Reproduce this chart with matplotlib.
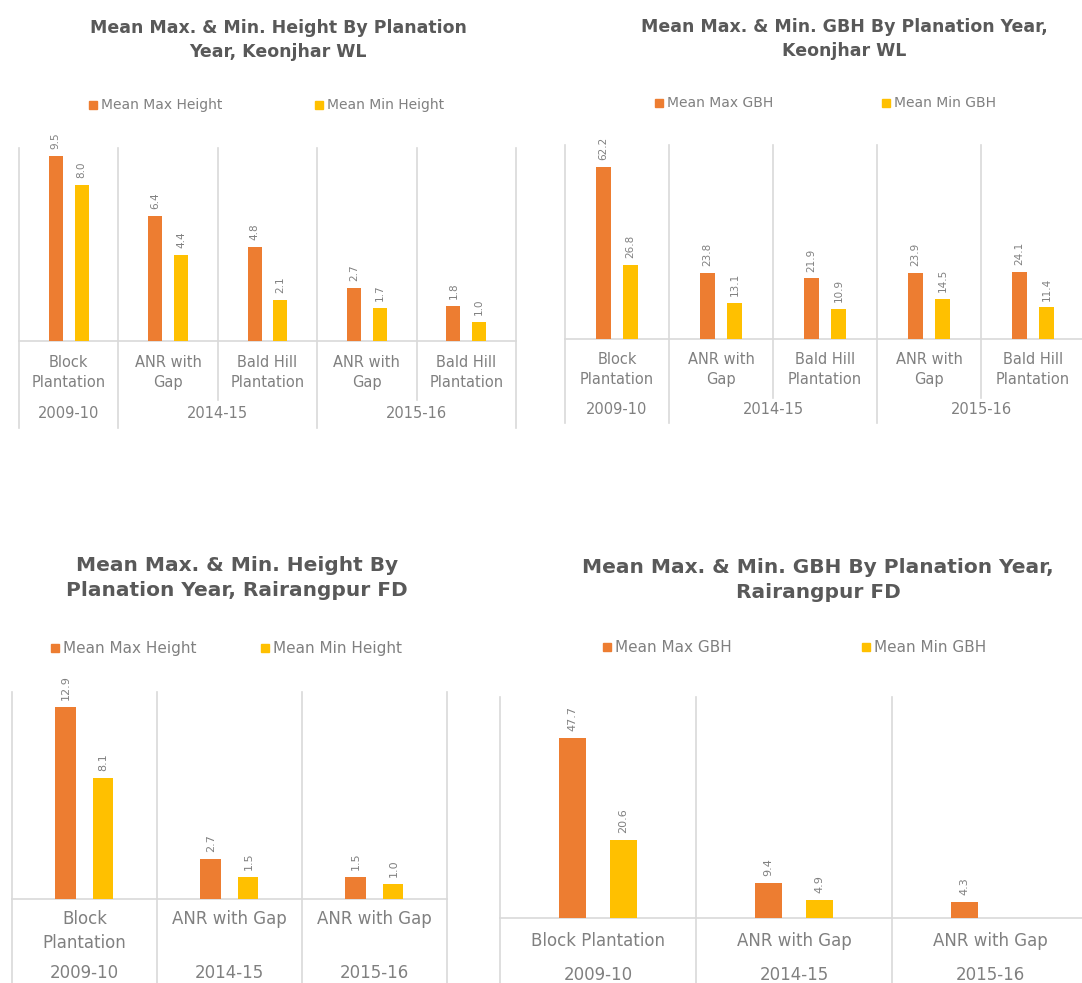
import numpy as np
import matplotlib
matplotlib.use("Agg")
import matplotlib.pyplot as plt
from matplotlib.patches import Rectangle
from matplotlib.transforms import blended_transform_factory

W, H = 1082, 983

ORANGE = "#ED7D31"
YELLOW = "#FFC000"
TITLE_C = "#595959"
TEXT_C = "#808080"
GRID_C = "#d9d9d9"

# data, Keonjhar WL
kj_cats = ["Block\nPlantation", "ANR with\nGap", "Bald Hill\nPlantation",
           "ANR with\nGap", "Bald Hill\nPlantation"]
kj_years = ["2009-10", "2014-15", "2015-16"]
kj_year_span = [1, 2, 2]
kj_max_height = [9.5, 6.4, 4.8, 2.7, 1.8]
kj_min_height = [8.0, 4.4, 2.1, 1.7, 1.0]
kj_max_gbh = [62.2, 23.8, 21.9, 23.9, 24.1]
kj_min_gbh = [26.8, 13.1, 10.9, 14.5, 11.4]

# data, Rairangpur FD
rp_cats_height = ["Block\nPlantation", "ANR with Gap", "ANR with Gap"]
rp_cats_gbh = ["Block Plantation", "ANR with Gap", "ANR with Gap"]
rp_years = ["2009-10", "2014-15", "2015-16"]
rp_year_span = [1, 1, 1]
rp_max_height = [12.9, 2.7, 1.5]
rp_min_height = [8.1, 1.5, 1.0]
rp_max_gbh = [47.7, 9.4, 4.3]
rp_min_gbh = [20.6, 4.9, None]

height_names = ["Mean Max Height", "Mean Min Height"]
gbh_names = ["Mean Max GBH", "Mean Min GBH"]

fig = plt.figure(figsize=(W / 100, H / 100), dpi=100)
fig.patch.set_facecolor("white")


def fx(x):
    return x / W


def fy(y):
    return 1 - y / H


def chart(title, tpos, cats, years, spans, vmax, vmin, names, box, ymax,
          leg, rows, bots, sizes):
    left, right, top, base = box
    ax = fig.add_axes([fx(left), fy(base), (right - left) / W, (base - top) / H])
    n = len(cats)
    x = np.arange(n)
    ax.bar(x - 0.13, vmax, 0.14, color=ORANGE, zorder=3)
    xm = [i for i in range(n) if vmin[i] is not None]
    ax.bar(x[xm] + 0.13, [vmin[i] for i in xm], 0.14, color=YELLOW, zorder=3)
    ax.set_xlim(-0.5, n - 0.5)
    ax.set_ylim(0, ymax)
    ax.axis("off")
    ax.axhline(0, color=GRID_C, lw=1.2, zorder=2, clip_on=False)

    tr = blended_transform_factory(ax.transData, fig.transFigure)
    bounds = np.cumsum([0] + spans)
    for i in range(n + 1):
        bot = bots[1] if i in bounds else bots[0]
        ax.plot([i - 0.5, i - 0.5], [fy(top), fy(bot)], transform=tr,
                color=GRID_C, lw=1.2, clip_on=False, zorder=1)

    for vals, off in ((vmax, -0.13), (vmin, 0.13)):
        for i, v in enumerate(vals):
            if v is None:
                continue
            ax.annotate(f"{v:.1f}", (i + off, v), xytext=(0, 5),
                        textcoords="offset points", rotation=90,
                        ha="center", va="bottom", fontsize=sizes[3],
                        color=TEXT_C)

    for i, c in enumerate(cats):
        ax.text(i, fy(rows[0]), c, transform=tr, ha="center", va="top",
                fontsize=sizes[1], color=TEXT_C, linespacing=1.45)
    for k, yr in enumerate(years):
        xc = bounds[k] + spans[k] / 2 - 0.5
        ax.text(xc, fy(rows[1]), yr, transform=tr, ha="center",
                va="center", fontsize=sizes[1], color=TEXT_C)

    fig.text(fx(tpos[0]), fy(tpos[1]), title, ha="center", va="center",
             fontsize=sizes[0], fontweight="bold", color=TITLE_C,
             linespacing=1.45)

    for mx, col, name in zip(leg[1:], (ORANGE, YELLOW), names):
        fig.add_artist(Rectangle((fx(mx - 4), fy(leg[0] + 4)), 8 / W, 8 / H,
                                 transform=fig.transFigure, color=col))
        fig.text(fx(mx + 8), fy(leg[0]), name, ha="left", va="center",
                 fontsize=sizes[2], color=TEXT_C)
    return ax


chart("Mean Max. & Min. Height By Planation\nYear, Keonjhar WL", (278, 40),
      kj_cats, kj_years, kj_year_span, kj_max_height, kj_min_height,
      height_names, (19, 516, 148, 341), 9.9, (105, 93, 319),
      (355, 414), (400, 428), (12.5, 10.5, 10, 7.5))

chart("Mean Max. & Min. GBH By Planation Year,\nKeonjhar WL", (844, 39),
      kj_cats, kj_years, kj_year_span, kj_max_gbh, kj_min_gbh,
      gbh_names, (565, 1085, 145, 339), 70.2, (103, 659, 886),
      (352, 410), (398, 423), (12.5, 10.5, 10, 7.5))

chart("Mean Max. & Min. Height By\nPlanation Year, Rairangpur FD", (237, 578),
      rp_cats_height, rp_years, rp_year_span, rp_max_height, rp_min_height,
      height_names, (12, 447, 692, 899), 13.9, (648, 55, 265),
      (910, 973), (990, 990), (14.5, 12, 11, 8))

chart("Mean Max. & Min. GBH By Planation Year,\nRairangpur FD", (818, 580),
      rp_cats_gbh, rp_years, rp_year_span, rp_max_gbh, rp_min_gbh,
      gbh_names, (500, 1088, 697, 918), 58.6, (647, 607, 866),
      (932, 975), (990, 990), (14.5, 12, 11, 8))

fig.savefig("out.png", dpi=100, facecolor="white")
